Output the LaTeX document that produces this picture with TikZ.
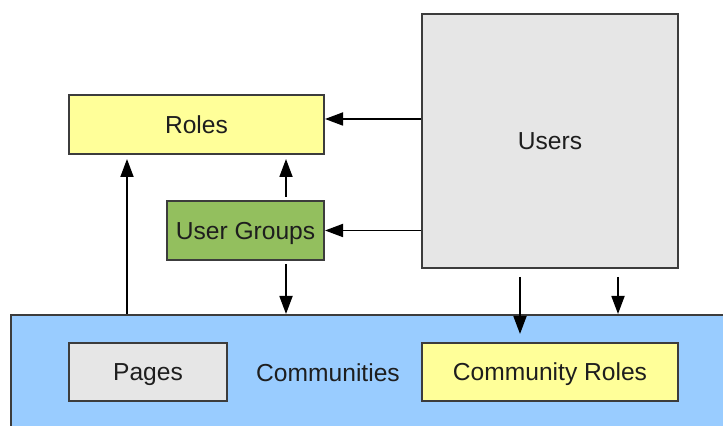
\documentclass[tikz,border=0pt]{standalone}
\usepackage{fontspec}
\setmainfont{Liberation Sans}
\usetikzlibrary{arrows.meta}

\definecolor{boxline}{HTML}{3C3C3C}
\definecolor{txt}{HTML}{1E1E1E}
\definecolor{rolefill}{HTML}{FFFF99}
\definecolor{groupfill}{HTML}{93BF5E}
\definecolor{greyfill}{HTML}{E6E6E6}
\definecolor{commfill}{HTML}{99CCFF}

\begin{document}
\begin{tikzpicture}[x=0.5pt,y=-0.5pt,
  box/.style={draw=boxline, line width=1pt, inner sep=0pt,
    text height=8.8pt, text depth=0pt,
    font=\fontsize{12.3}{14}\selectfont, text=txt},
  label/.style={inner sep=0pt, text height=8.8pt, text depth=0pt,
    font=\fontsize{12.3}{14}\selectfont, text=txt},
  arr/.style={-{Triangle[width=6.5pt,length=9pt]}, line width=0.9pt, draw=black}]
\useasboundingbox (0,0) rectangle (723,426);
\clip (0,0) rectangle (723,426);

% the communities container runs past the right and bottom edges
\node[box, fill=commfill, minimum width=364.5pt, minimum height=62.5pt] (comm) at (375.5,377.5) {};
\node[label] (commtext) at (328,373) {Communities};

\node[box, fill=rolefill, minimum width=127.5pt, minimum height=29.5pt] (roles) at (196.5,124.5) {Roles};
\node[box, fill=groupfill, minimum width=78.5pt, minimum height=29.5pt] (ug) at (245.5,230.5) {User Groups};
\node[box, fill=greyfill, minimum width=128pt, minimum height=127pt] (users) at (550,141) {Users};
\node[box, fill=greyfill, minimum width=79pt, minimum height=29pt] (pages) at (148,372) {Pages};
\node[box, fill=rolefill, minimum width=128pt, minimum height=29pt] (croles) at (550,372) {Community Roles};

% connectors
\draw[arr] ([yshift=2.75pt]users.west |- roles.east) -- ([yshift=2.75pt]roles.east);
\draw[arr] (users.west |- ug.east) -- (ug.east);
\draw[arr] ([xshift=29.5pt]roles.south west |- comm.north) -- ([xshift=29.5pt,yshift=-2pt]roles.south west);
\draw[arr] ([xshift=-19.5pt,yshift=1.5pt]ug.north east) -- ([xshift=-19.5pt,yshift=-2pt]roles.south east);
\draw[arr] ([xshift=-19.5pt,yshift=-1.5pt]ug.south east) -- ([xshift=-19.5pt]ug.south east |- comm.north);
\draw[arr] ([xshift=-15pt,yshift=-4pt]users.south) -- ([xshift=-15pt,yshift=4pt]croles.north);
\draw[arr] ([xshift=34pt,yshift=-4pt]users.south) -- ([xshift=34pt]users.south |- comm.north);
\end{tikzpicture}
\end{document}
